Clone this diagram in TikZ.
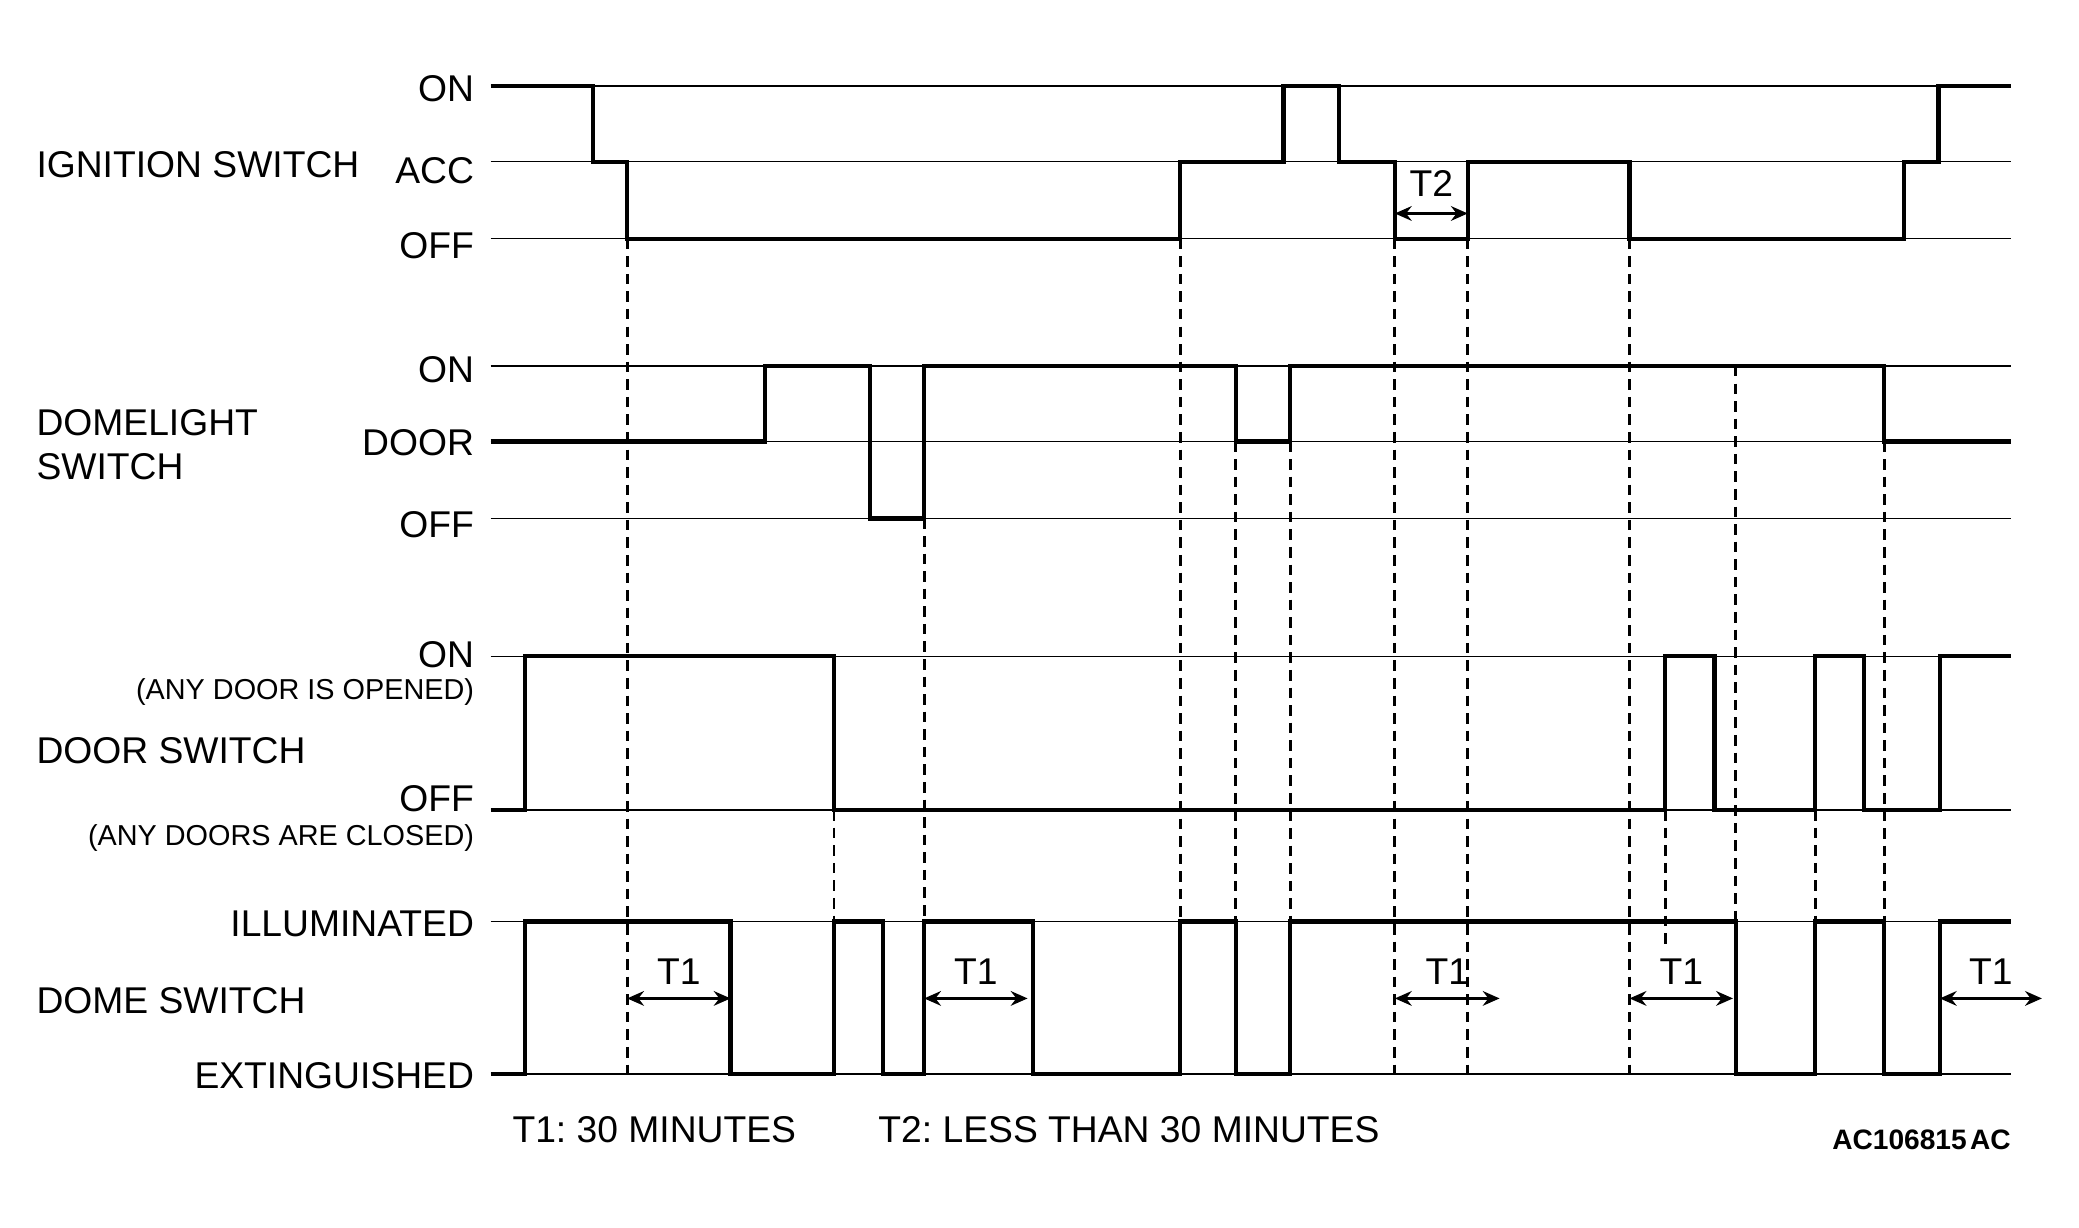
\documentclass[tikz,border=0pt]{standalone}
\usepackage{fontspec}
\setmainfont{Liberation Sans}
\usetikzlibrary{arrows.meta}
\newcommand{\lblsize}{\fontsize{10.6}{12.4}\selectfont}
\newcommand{\notesize}{\fontsize{8.2}{10}\selectfont}
\newcommand{\codesize}{\fontsize{8}{10}\selectfont\bfseries}
\frenchspacing

\begin{document}
\begin{tikzpicture}[x=0.01326cm, y=-0.01326cm,
    level/.style={line width=0.4pt},
    wave/.style={line width=1.2pt, line join=miter},
    guide/.style={line width=0.85pt, dash pattern=on 3pt off 2pt},
    tarrow/.style={line width=0.65pt, {Stealth[length=4.8pt,width=4.2pt,inset=1.6pt]}-{Stealth[length=4.8pt,width=4.2pt,inset=1.6pt]}},
    lvl/.style={font=\lblsize, inner sep=0pt, anchor=east},
    sig/.style={font=\lblsize, inner sep=0pt, anchor=west},
    note/.style={font=\notesize, inner sep=0pt, anchor=east},
    tlbl/.style={font=\lblsize, inner sep=0pt}]

    \useasboundingbox (0,0) rectangle (1568,926);

    % level lines
    \foreach \y in {65,122,180,276,333,391,495,611,695,810}
        \draw[level] (370,\y) -- (1517,\y);

    % signal names
    \node[sig] (ign) at (27,124) {IGNITION SWITCH};
    \node[sig] (dlight) at (27,319) {DOMELIGHT};
    \node[sig] (dlsw) at (27,352) {SWITCH};
    \node[sig] (door) at (27,566) {DOOR SWITCH};
    \node[sig] (dome) at (27,755) {DOME SWITCH};

    % level names
    \node[lvl] (ignon) at (358,67) {ON};
    \node[lvl] (ignacc) at (358,129) {ACC};
    \node[lvl] (ignoff) at (358,185) {OFF};
    \node[lvl] (dlon) at (358,279) {ON};
    \node[lvl] (dldoor) at (358,334) {DOOR};
    \node[lvl] (dloff) at (358,396) {OFF};
    \node[lvl] (dooron) at (358,494) {ON};
    \node[note] (dooropen) at (358,522) {(ANY DOOR IS OPENED)};
    \node[lvl] (dooroff) at (358,602) {OFF};
    \node[note] (doorclosed) at (358,632) {(ANY DOORS ARE CLOSED)};
    \node[lvl] (domeill) at (358,697) {ILLUMINATED};
    \node[lvl] (domeext) at (358,811) {EXTINGUISHED};

    % waveforms
    \draw[wave] (370,65) -| (447,122) -| (473,180) -| (890,122) -| (968,65) -| (1010,122)
        -| (1052,180) -| (1107,122) -| (1229,180) -| (1436,122) -| (1462,65) -- (1517,65);
    \draw[wave] (370,333) -| (577,276) -| (656,391) -| (697,276) -| (932,333) -| (973,276)
        -| (1421,333) -- (1517,333);
    \draw[wave] (370,611) -| (396,495) -| (629,611) -| (1256,495) -| (1293,611) -| (1369,495)
        -| (1406,611) -| (1463,495) -- (1517,495);
    \draw[wave] (370,810) -| (396,695) -| (551,810) -| (629,695) -| (666,810) -| (697,695)
        -| (779,810) -| (890,695) -| (932,810) -| (973,695) -| (1309,810) -| (1369,695)
        -| (1421,810) -| (1463,695) -- (1517,695);

    % dashed guides
    \foreach \x/\ya/\yb in {473/180/810, 629/611/695, 697/391/695, 890/180/695, 932/333/695,
        973/333/695, 1052/180/810, 1107/180/810, 1229/180/810, 1256/611/715,
        1309/276/695, 1369/611/695, 1421/333/695}
        \draw[guide] (\x,\ya) -- (\x,\yb);

    % T2
    \coordinate (t2s) at (1052,161);
    \coordinate (t2e) at (1107,161);
    \draw[tarrow] (t2s) -- node[tlbl, above=4.5pt] (t2lbl) {T2} (t2e);

    % T1
    \foreach \a/\b [count=\i] in {473/551, 697/775, 1052/1131, 1229/1307, 1463/1540}{
        \coordinate (t1s\i) at (\a,753);
        \coordinate (t1e\i) at (\b,753);
        \draw[tarrow] (t1s\i) -- node[tlbl, above=3.6pt] (t1lbl\i) {T1} (t1e\i);
    }

    % notes
    \node[sig] (t1note) at (386,852) {T1: 30 MINUTES};
    \node[sig] (t2note) at (662,852) {T2: LESS THAN 30 MINUTES};
    \node[font=\codesize, inner sep=0pt, anchor=east] (code) at (1517,860) {AC106815\kern0.12em AC};

\end{tikzpicture}
\end{document}
